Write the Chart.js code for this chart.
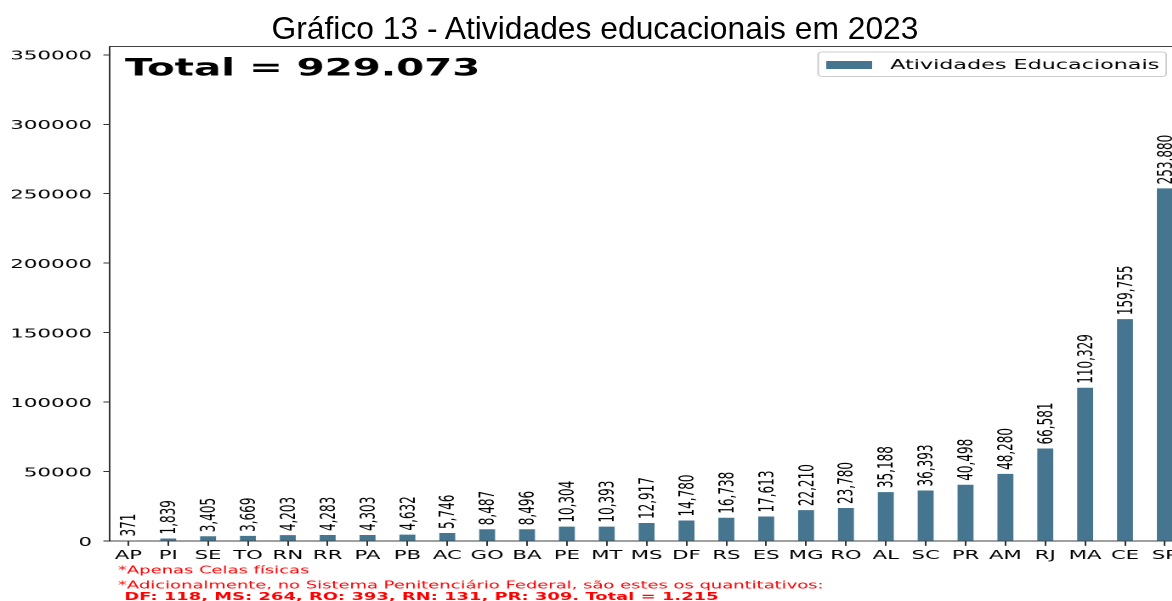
<!DOCTYPE html>
<html><head><meta charset="utf-8">
<script src="https://cdn.jsdelivr.net/npm/chart.js@4.4.1/dist/chart.umd.min.js"></script>
<style>
html,body{margin:0;padding:0;background:#fff;overflow:hidden;width:1172px;height:601px;}
#stretch{position:absolute;left:0;top:0;width:696px;height:601px;transform:scaleX(1.7);transform-origin:0 0;}
#title{position:absolute;left:0;top:12.5px;width:1190px;text-align:center;font-family:"Liberation Sans",Arial,sans-serif;font-size:31.8px;line-height:31.8px;color:#000;white-space:nowrap;}
</style></head><body>
<div id="stretch"><canvas id="c" width="696" height="601"></canvas></div>
<div id="title">Gráfico 13 - Atividades educacionais em 2023</div>
<script>
const categories = ['AP','PI','SE','TO','RN','RR','PA','PB','AC','GO','BA','PE','MT','MS','DF','RS','ES','MG','RO','AL','SC','PR','AM','RJ','MA','CE','SP'];
const values = [371,1839,3405,3669,4203,4283,4303,4632,5746,8487,8496,10304,10393,12917,14780,16738,17613,22210,23780,35188,36393,40498,48280,66581,110329,159755,253880];
const yTicks = [0,50000,100000,150000,200000,250000,300000,350000];
const seriesLabel = 'Atividades Educacionais';
const totalText = 'Total = 929.073';
const notes = ['*Apenas Celas físicas',
  '*Adicionalmente, no Sistema Penitenciário Federal, são estes os quantitativos:',
  ' DF: 118, MS: 264, RO: 393, RN: 131, PR: 309. Total = 1.215'];

const FONT = '"DejaVu Sans", Verdana, sans-serif';
const BAR = '#45758f';

const decor = {
  id: 'decor',
  afterDatasetsDraw(chart) {
    const {ctx, chartArea} = chart;
    const meta = chart.getDatasetMeta(0);
    ctx.save();
    ctx.font = '12px ' + FONT;
    ctx.fillStyle = '#000';
    ctx.textAlign = 'left';
    ctx.textBaseline = 'middle';
    meta.data.forEach((bar, i) => {
      ctx.save();
      ctx.translate(bar.x + 1, bar.y - 4);
      ctx.rotate(-Math.PI / 2);
      ctx.fillText(values[i].toLocaleString('en-US'), 0, 0);
      ctx.restore();
    });
    // top spine
    ctx.strokeStyle = '#000';
    ctx.lineWidth = 0.8;
    ctx.beginPath();
    ctx.moveTo(chartArea.left, chartArea.top);
    ctx.lineTo(chartArea.right, chartArea.top);
    ctx.stroke();
    ctx.restore();
  },
  afterDraw(chart) {
    const {ctx, chartArea} = chart;
    ctx.save();
    // legend
    const fw = 204.7, fx = chartArea.right - 10 - fw, fy = 52, fh = 24.5;
    ctx.beginPath();
    ctx.roundRect(fx, fy, fw, fh, 2.5);
    ctx.fillStyle = 'rgba(255,255,255,0.8)';
    ctx.fill();
    ctx.strokeStyle = '#cccccc';
    ctx.lineWidth = 1;
    ctx.stroke();
    ctx.fillStyle = BAR;
    ctx.fillRect(fx + 4.7, 61, 27, 8);
    ctx.fillStyle = '#000';
    ctx.font = '13.1px ' + FONT;
    ctx.textAlign = 'left';
    ctx.textBaseline = 'alphabetic';
    ctx.fillText(seriesLabel, fx + 42.3, 69);
    // total
    ctx.font = 'bold 23.7px ' + FONT;
    ctx.fillText(totalText, chartArea.left + 8.8, 75.5);
    // notes
    ctx.fillStyle = '#ff0000';
    ctx.font = '10.55px ' + FONT;
    ctx.fillText(notes[0], 69.4, 573.3);
    ctx.fillText(notes[1], 69.4, 588.3);
    ctx.font = 'bold 10.55px ' + FONT;
    ctx.fillText(notes[2], 69.4, 600);
    ctx.restore();
  }
};

new Chart(document.getElementById('c'), {
  type: 'bar',
  data: {
    datasets: [{
      label: seriesLabel,
      data: values.map((v, i) => ({x: i, y: v})),
      backgroundColor: BAR,
      borderWidth: 0,
      barPercentage: 0.4,
      categoryPercentage: 1.0
    }]
  },
  options: {
    responsive: false,
    animation: false,
    devicePixelRatio: 2,
    layout: {padding: {top: 46.5, left: 0, right: 0, bottom: 0}},
    plugins: {legend: {display: false}, title: {display: false}, tooltip: {enabled: false}},
    scales: {
      x: {
        type: 'linear', min: -0.46, max: 26.46, offset: false,
        afterBuildTicks: s => { s.ticks = categories.map((_, i) => ({value: i})); },
        afterFit: s => { s.height = 60; },
        ticks: {autoSkip: false, maxRotation: 0, minRotation: 0, padding: 2.5, color: '#000',
          font: {family: FONT, size: 12.5}, callback: v => categories[Math.round(v)]},
        grid: {display: true, offset: false, drawOnChartArea: false, drawTicks: true, tickLength: 4.9, color: '#000', lineWidth: 0.8},
        border: {display: true, color: '#000', width: 0.8}
      },
      y: {
        type: 'linear', min: 0, max: 356000,
        afterBuildTicks: s => { s.ticks = yTicks.map(v => ({value: v})); },
        afterFit: s => { s.width = 64.7; },
        ticks: {padding: 6.7, labelOffset: 1.5, color: '#000', font: {family: FONT, size: 12.6}, callback: v => String(v)},
        grid: {display: true, drawOnChartArea: false, drawTicks: true, tickLength: 3.9, color: '#000', lineWidth: 0.8},
        border: {display: true, color: '#000', width: 0.8}
      }
    }
  },
  plugins: [decor]
});
</script>
</body></html>
